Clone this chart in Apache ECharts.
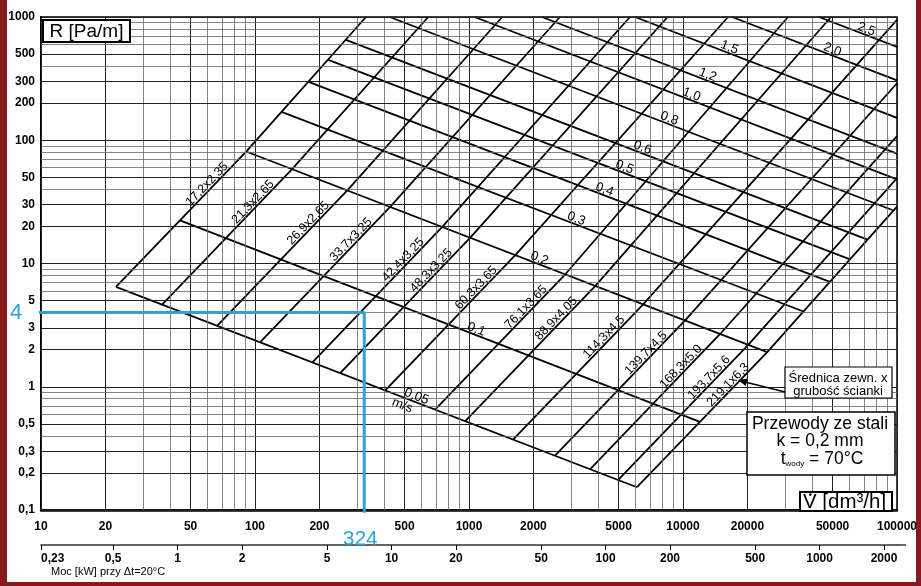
<!DOCTYPE html>
<html><head><meta charset="utf-8">
<script src="https://cdn.jsdelivr.net/npm/echarts@6/dist/echarts.min.js"></script>
<style>html,body{margin:0;padding:0;background:#fff}#c{width:921px;height:586px}</style>
</head><body><div id="c"></div>
<script>
// ---- tick labels ----
const xTicks = [10,20,50,100,200,500,1000,2000,5000,10000,20000,50000,100000];
const yTicks = [0.1,0.2,0.3,0.5,1,2,3,5,10,20,30,50,100,200,300,500,1000];
const kwTicks = [0.23,0.5,1,2,5,10,20,50,100,200,500,1000,2000];

// ---- pipe lines (outer diameter x wall), points [V dm3/h, R Pa/m] ----
const pipeNames = ['17,2x2,35','21,3x2,65','26,9x2,65','33,7x3,25','42,4x3,25','48,3x3,25','60,3x3,65',
  '76,1x3,65','88,9x4,05','114,3x4,5','139,7x4,5','168,3x5,0','193,7x5,6','219,1x6,3'];
const pipeStart = [[22.4,6.47],[36.8,4.64],[66.5,3.12],[105.5,2.29],[185,1.57],[250,1.29],[405,0.93],
  [694,0.651],[958,0.523],[1606,0.372],[2523,0.276],[3676,0.214],[4969,0.175],[6095,0.153]];
const pipeBend = [[90.9,81.0],[149,58.2],[270,39.2],[428,28.8],[750,19.8],[1014,16.2],[1646,11.7],
  [2818,8.18],[3896,6.58],[6516,4.66],[10230,3.45],[14910,2.68],[20170,2.19],[24750,1.91]];
const pipeEnd = [[330,1000],[645,1000],[1429,1000],[2659,1000],[5653,1000],[8472,1000],[16240,1000],
  [30950,1000],[49140,1000],[100000,947],[100000,290],[100000,108],[100000,49.3],[100000,28.9]];

// ---- velocity lines [m/s] ----
const velNames = ['0,05','0,1','0,2','0,3','0,4','0,5','0,6','0,8','1,0','1,2','1,5','2,0','2,5'];
const velStart = [[22.4,6.47],[44.6,22.4],[90.9,81.0],[133,170],[178,298],[220,449],[266,652],
  [426,1000],[1062,1000],[2193,1000],[5967,1000],[16940,1000],[43200,1000]];
const velEnd = [[6095,0.153],[12000,0.518],[24750,1.91],[36570,4.08],[48580,7.09],[60390,10.8],[72800,15.6],
  [96400,26.9],[100000,48.1],[100000,78.0],[100000,152],[100000,306],[100000,572]];

// ---- reading example ----
const readR = 4;
const readV = 324;

const FONT = "'Liberation Sans', Arial, sans-serif";
const BLUE = '#2aa3dc';
const comma = v => String(Number(Number(v).toPrecision(6))).replace('.', ',');

function gridValues(lo, hi) {
  const out = [];
  for (let d = lo; d < hi * 0.999; d *= 10) {
    for (let k = 1; k <= 9; k++) out.push({v: Number((k * d).toPrecision(6)), k: k});
  }
  out.push({v: hi, k: 1});
  return out;
}
const gx = gridValues(10, 100000), gy = gridValues(0.1, 1000);
const gridLines = [];
gx.forEach(g => { const m = [1,2,5].includes(g.k);
  gridLines.push({xAxis: g.v, lineStyle: {color: m ? '#222' : '#666', width: m ? 1 : 0.8, type: 'solid'}}); });
gy.forEach(g => { const m = [1,2,3,5].includes(g.k);
  gridLines.push({yAxis: g.v, lineStyle: {color: m ? '#222' : '#666', width: m ? 1 : 0.8, type: 'solid'}}); });

const series = [];
series.push({type: 'line', data: [], silent: true, z: 1,
  markLine: {silent: true, symbol: ['none','none'], label: {show: false}, animation: false, data: gridLines}});
const lineStyle = {color: '#000', width: 1.8};
pipeNames.forEach((n, i) => series.push({type: 'line', name: n, data: [pipeStart[i], pipeBend[i], pipeEnd[i]],
  symbol: 'none', lineStyle, silent: true, z: 3}));
velNames.forEach((n, i) => series.push({type: 'line', name: 'v' + n, data: [velStart[i], velEnd[i]],
  symbol: 'none', lineStyle, silent: true, z: 3}));
series.push({type: 'line', data: [[9.48, readR], [readV, readR], [readV, 0.095]], clip: false,
  symbol: 'none', lineStyle: {color: BLUE, width: 3}, silent: true, z: 6});

const chart = echarts.init(document.getElementById('c'), null, {renderer: 'canvas'});
const labelBase = {color: '#000', fontFamily: FONT, fontSize: 12, fontWeight: 'bold', formatter: v => comma(v)};
chart.setOption({
  animation: false,
  backgroundColor: '#fff',
  grid: {left: 41, right: 24, top: 17, bottom: 76, show: true, borderColor: '#000', borderWidth: 1.5, backgroundColor: 'transparent'},
  xAxis: [
    {type: 'log', logBase: 10, min: 10, max: 100000, position: 'bottom',
      axisLine: {show: true, onZero: false, lineStyle: {color: '#000', width: 2.5}},
      axisTick: {show: false}, splitLine: {show: false}, minorTick: {show: false},
      axisLabel: Object.assign({}, labelBase, {customValues: xTicks, margin: 11, hideOverlap: false})},
    {type: 'log', logBase: 10, min: 0.23, max: 2300, position: 'bottom', offset: 35,
      axisLine: {show: true, onZero: false, lineStyle: {color: '#333', width: 1.5}},
      axisTick: {show: true, customValues: kwTicks, length: 5, lineStyle: {color: '#000', width: 1}},
      splitLine: {show: false},
      axisLabel: Object.assign({}, labelBase, {customValues: kwTicks, margin: 8, alignMinLabel: 'left', hideOverlap: false})}
  ],
  yAxis: {type: 'log', logBase: 10, min: 0.1, max: 1000,
    axisLine: {show: true, onZero: false, lineStyle: {color: '#000', width: 2}},
    axisTick: {show: false}, splitLine: {show: false}, minorTick: {show: false},
    axisLabel: Object.assign({}, labelBase, {customValues: yTicks, margin: 6, hideOverlap: false})},
  series: series
});

// ---- labels placed along the lines through the axes' own scales ----
const px = p => chart.convertToPixel({xAxisIndex: 0, yAxisIndex: 0}, p);
const g = [];
function along(a, b, f, off) {
  const A = px(a), B = px(b);
  const dx = B[0] - A[0], dy = B[1] - A[1], L = Math.hypot(dx, dy);
  const ux = dx / L, uy = dy / L;
  const nx = uy, ny = -ux;   // normal pointing to the upper side of the line
  return {x: A[0] + f * dx + off * nx, y: A[1] + f * dy + off * ny, rot: Math.atan2(-dy, dx)};
}
pipeNames.forEach((n, i) => {
  const p = along(pipeStart[i], pipeBend[i], 0.73, 5.5);
  g.push({type: 'text', x: p.x, y: p.y, rotation: p.rot, z: 10,
    style: {text: n, font: '12.5px ' + FONT, fill: '#000', align: 'center', verticalAlign: 'middle'}});
});
const velFrac = [0.573,0.566,0.559,0.561,0.564,0.564,0.565,0.551,0.509,0.461,0.353,0.597,0.583];
velNames.forEach((n, i) => {
  const p = along(velStart[i], velEnd[i], velFrac[i], 5.5);
  g.push({type: 'text', x: p.x, y: p.y, rotation: p.rot, z: 10,
    style: {text: n, font: '13px ' + FONT, fill: '#000', align: 'center', verticalAlign: 'middle'}});
});
{
  const p = along(velStart[0], velEnd[0], 0.555, -8);
  g.push({type: 'text', x: p.x, y: p.y, rotation: p.rot, z: 10,
    style: {text: 'm/s', font: '13px ' + FONT, fill: '#000', align: 'center', verticalAlign: 'middle'}});
}
// reading example labels
const r4 = px([readV, readR]);
g.push({type: 'text', x: 16, y: r4[1], z: 10, style: {text: String(readR), font: '22px ' + FONT, fill: BLUE, align: 'center', verticalAlign: 'middle'}});
g.push({type: 'text', x: r4[0] - 4, y: 539, z: 10, style: {text: String(readV), font: '21px ' + FONT, fill: BLUE, align: 'center', verticalAlign: 'middle'}});

// boxes
function box(x, y, w, h, lw) {
  g.push({type: 'rect', shape: {x, y, width: w, height: h}, z: 8,
    style: {fill: '#fff', stroke: '#000', lineWidth: lw || 1.5}});
}
const T = (x, y, text, size, align) => g.push({type: 'text', x, y, z: 9,
  style: {text, font: size + 'px ' + FONT, fill: '#000', align: align || 'center', verticalAlign: 'middle'}});
box(43, 20, 87, 22, 2);
T(86.5, 31.5, 'R [Pa/m]', 19);
box(800, 492, 92, 19, 2);
T(803, 502.5, 'V [dm\u00b3/h]', 20.5, 'left');
g.push({type: 'circle', shape: {cx: 810.3, cy: 494.6, r: 1.3}, z: 9, style: {fill: '#000'}});
box(747, 412, 148, 63, 1.5);
T(820, 424, 'Przewody ze stali', 17.5);
T(820, 441, 'k = 0,2 mm', 17.5);
g.push({type: 'text', x: 822, y: 459, z: 9, style: {text: '{a|t}{b|wody}{a| = 70°C}', align: 'center', verticalAlign: 'middle',
  rich: {a: {font: '17.5px ' + FONT, fill: '#000'}, b: {font: '8px ' + FONT, fill: '#000', padding: [9, 0, 0, 0]}}}});
box(785, 367, 107, 31, 1.2);
T(838, 378, 'Średnica zewn. x', 13);
T(838, 391, 'grubość ścianki', 13);
g.push({type: 'line', shape: {x1: 785, y1: 392, x2: 745, y2: 382}, z: 9, style: {stroke: '#000', lineWidth: 1.6}});
g.push({type: 'polygon', shape: {points: [[738, 380], [747.6, 378.6], [745.8, 385.9]]}, z: 9, style: {fill: '#000'}});

// power axis caption and axis-line extension
T(51, 572, 'Moc [kW] przy \u0394t=20°C', 11, 'left');
g.push({type: 'line', shape: {x1: 897, y1: 545, x2: 906, y2: 545}, z: 9, style: {stroke: '#333', lineWidth: 1.5}});

// dark red scan frame
g.push({type: 'rect', shape: {x: 0, y: 0, width: 7, height: 586}, z: 20, style: {fill: '#861a1a'}});
g.push({type: 'rect', shape: {x: 916, y: 0, width: 5, height: 586}, z: 20, style: {fill: '#861a1a'}});
g.push({type: 'rect', shape: {x: 0, y: 582, width: 921, height: 4}, z: 20, style: {fill: '#861a1a'}});

chart.setOption({graphic: g});
</script></body></html>
